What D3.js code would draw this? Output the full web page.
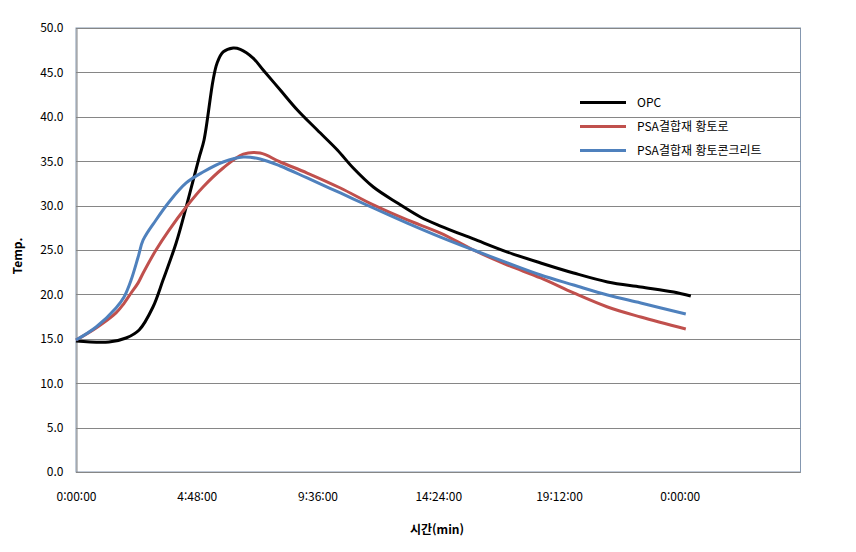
<!DOCTYPE html>
<html lang="ko">
<head>
  <meta charset="UTF-8">
  <title>Temp. vs 시간</title>
  <script src="https://d3js.org/d3.v7.min.js"></script>
  <style>
    body { margin: 0; background: #fff; font-family: "Noto Sans CJK KR", "Noto Sans", sans-serif; }
    svg { display: block; }
    text { fill: #000; font-size: 12px; }
  </style>
</head>
<body>
  <svg width="856" height="552"></svg>

  <script>
    // elapsed time in hours
    const opcHours = [0, 1.31, 1.99, 2.51, 3.06, 3.46, 3.98, 4.38, 4.66, 4.90, 5.09, 5.45, 5.61, 5.85, 6.25,
      6.53, 7.04, 7.44, 8.12, 8.80, 9.59, 10.39, 11.02, 11.82, 12.78, 13.69, 14.49, 15.80, 17.15, 18.47,
      19.78, 21.13, 22.45, 23.76, 24.44];
    const opcTemp = [14.75, 14.64, 15.09, 15.99, 18.58, 21.62, 25.79, 29.84, 32.88, 35.47, 37.39, 44.14, 46.06, 47.30, 47.75,
      47.6, 46.62, 45.27, 43.02, 40.77, 38.51, 36.26, 34.23, 32.09, 30.29, 28.72, 27.7, 26.25, 24.77, 23.54,
      22.41, 21.40, 20.83, 20.27, 19.82];

    const psaHours = [0, 0.80, 1.59, 1.91, 2.19, 2.47, 2.67, 3.18, 3.70, 4.38, 5.05, 5.85, 6.65, 7.32, 8.12,
      9.19, 10.51, 11.82, 13.17, 14.49, 15.80, 17.15, 18.47, 19.78, 21.13, 22.45, 24.24];
    const hwangtoroTemp = [14.86, 16.22, 17.91, 19.0, 20.16, 21.3, 22.41, 25.0, 27.25, 29.84, 32.09, 34.23, 35.8, 35.92, 34.91,
      33.67, 31.98, 30.07, 28.38, 26.91, 25.0, 23.31, 21.85, 20.16, 18.58, 17.45, 16.10];
    const concreteTemp = [14.86, 16.33, 18.47, 19.71, 21.62, 24.21, 26.13, 28.38, 30.41, 32.55, 33.78, 34.91, 35.47, 35.25, 34.46,
      33.11, 31.42, 29.73, 28.04, 26.46, 25.0, 23.54, 22.18, 21.06, 19.93, 19.03, 17.79];

    const seriesNames = ["OPC", "PSA결합재 황토로", "PSA결합재 황토콘크리트"];
    const seriesColors = ["#000000", "#C0504D", "#4F81BD"];

    const xTicks = [0, 4.8, 9.6, 14.4, 19.2, 24];
    const yTicks = d3.range(0, 50.1, 5);

    const series = [
      opcHours.map((h, i) => [h, opcTemp[i]]),
      psaHours.map((h, i) => [h, hwangtoroTemp[i]]),
      psaHours.map((h, i) => [h, concreteTemp[i]])
    ];

    const svg = d3.select("svg");
    const plotL = 76, plotR = 800.5, plotT = 28, plotB = 472;

    const x = d3.scaleLinear().domain([0, 28.8]).range([plotL, plotR]);
    const y = d3.scaleLinear().domain([0, 50]).range([plotB, plotT]);

    const fmtTime = h => {
      const totalMin = Math.round(h * 60);
      const hh = Math.floor(totalMin / 60) % 24;
      const mm = totalMin % 60;
      return hh + ":" + String(mm).padStart(2, "0") + ":00";
    };

    // plot area border
    svg.append("rect")
      .attr("x", plotL).attr("y", plotT)
      .attr("width", plotR - plotL).attr("height", plotB - plotT)
      .attr("fill", "none").attr("stroke", "#8497B0").attr("stroke-width", 1);

    // gridlines
    svg.append("g")
      .selectAll("line")
      .data(yTicks)
      .join("line")
        .attr("x1", plotL).attr("x2", plotR)
        .attr("y1", d => Math.round(y(d)) + 0.5).attr("y2", d => Math.round(y(d)) + 0.5)
        .attr("stroke", "#868686");

    // axes
    const yAxis = svg.append("g")
      .attr("transform", `translate(${plotL + 0.5},0)`)
      .call(d3.axisLeft(y).tickValues(yTicks).tickSize(0).tickPadding(13).tickFormat(d3.format(".1f")));
    yAxis.select(".domain").attr("stroke", "#868686");
    yAxis.selectAll("text").attr("font-size", 12).attr("font-family", "Noto Sans CJK KR").attr("fill", "#000");

    const xAxis = svg.append("g")
      .attr("transform", `translate(0,${plotB + 0.5})`)
      .call(d3.axisBottom(x).tickValues(xTicks).tickSize(0).tickPadding(20).tickFormat(fmtTime));
    xAxis.select(".domain").attr("stroke", "#868686").attr("d", `M${plotL},0H${plotR}`);
    xAxis.selectAll("text").attr("font-size", 12).attr("font-family", "Noto Sans CJK KR").attr("fill", "#000");

    // lines
    const line = d3.line()
      .x(d => x(d[0]))
      .y(d => y(d[1]))
      .curve(d3.curveCatmullRom.alpha(0.5));

    svg.append("g")
      .attr("fill", "none")
      .selectAll("path")
      .data(series)
      .join("path")
        .attr("d", line)
        .attr("stroke", (d, i) => seriesColors[i])
        .attr("stroke-width", 3)
        .attr("stroke-linejoin", "round");

    // axis titles
    svg.append("text")
      .attr("x", 437).attr("y", 534)
      .attr("text-anchor", "middle")
      .attr("font-weight", "bold")
      .text("시간(min)");

    svg.append("text")
      .attr("transform", "translate(22,256) rotate(-90)")
      .attr("text-anchor", "middle")
      .attr("font-weight", "bold")
      .text("Temp.");

    // legend
    const legend = svg.append("g")
      .selectAll("g")
      .data(seriesNames)
      .join("g")
        .attr("transform", (d, i) => `translate(580,${102.5 + i * 24})`);
    legend.append("line")
      .attr("x1", 0).attr("x2", 46)
      .attr("stroke", (d, i) => seriesColors[i])
      .attr("stroke-width", 3);
    legend.append("text")
      .attr("x", 57).attr("dy", "0.35em")
      .text(d => d);
  </script>
</body>
</html>
